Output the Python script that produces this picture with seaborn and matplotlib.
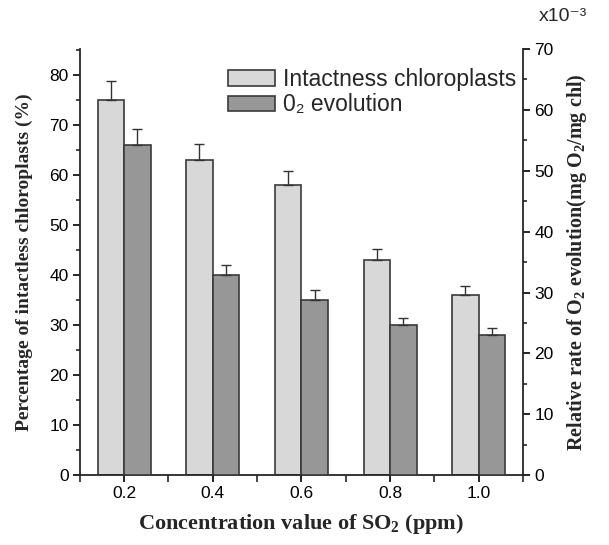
import numpy as np
import matplotlib
matplotlib.use("Agg")
import matplotlib.pyplot as plt
import seaborn as sns
from matplotlib.patches import Patch
from matplotlib.ticker import MultipleLocator

# ---- data ----
conc = [0.2, 0.4, 0.6, 0.8, 1.0]
tick_labels = ["0.2", "0.4", "0.6", "0.8", "1.0"]
intact = [75.0, 63.0, 58.0, 43.0, 36.0]          # % (left axis)
intact_err = [3.8, 3.2, 2.8, 2.2, 1.8]
o2_rate = [54.2, 32.9, 28.8, 24.7, 23.0]         # x1e-3 mg O2/mg chl (right axis)
o2_err = [2.7, 1.6, 1.6, 1.2, 1.2]

sns.set_style("ticks")
plt.rcParams["font.family"] = ["Liberation Sans", "DejaVu Sans"]
plt.rcParams["mathtext.fontset"] = "custom"
plt.rcParams["mathtext.rm"] = "Liberation Serif:bold"
plt.rcParams["mathtext.bf"] = "Liberation Serif:bold"
plt.rcParams["mathtext.it"] = "Liberation Serif:bold"

light = "#d8d8d8"
dark = "#979797"
edge = "#3a3a3a"

fig = plt.figure(figsize=(6.09, 5.45), dpi=100)
ax = fig.add_axes([0.131, 0.128, 0.728, 0.782])
ax2 = ax.twinx()

off = 0.03
x_light = [c - off for c in conc]
x_dark = [c + off for c in conc]

sns.barplot(x=x_light, y=intact, native_scale=True, width=0.3, color=light,
            edgecolor=edge, linewidth=1.2, errorbar=None, ax=ax, saturation=1)
sns.barplot(x=x_dark, y=o2_rate, native_scale=True, width=0.3, color=dark,
            edgecolor=edge, linewidth=1.2, errorbar=None, ax=ax2, saturation=1)

ax.errorbar(x_light, intact, yerr=[np.zeros(len(intact)), intact_err], fmt="none",
            ecolor="#333333", elinewidth=1.0, capsize=3.5, capthick=1.0, zorder=5)
ax2.errorbar(x_dark, o2_rate, yerr=[np.zeros(len(o2_rate)), o2_err], fmt="none",
             ecolor="#333333", elinewidth=1.0, capsize=3.5, capthick=1.0, zorder=5)

ax.set_xlim(0.1, 1.1)
ax.set_ylim(0, 85.1)
ax2.set_ylim(0, 70)

ax.set_xticks(conc)
ax.set_xticklabels(tick_labels)
ax.set_xticks([0.1, 0.3, 0.5, 0.7, 0.9, 1.1], minor=True)
ax.yaxis.set_major_locator(MultipleLocator(10))
ax.yaxis.set_minor_locator(MultipleLocator(5))
ax2.yaxis.set_major_locator(MultipleLocator(10))
ax2.yaxis.set_minor_locator(MultipleLocator(5))

for a in (ax, ax2):
    a.tick_params(axis="both", which="major", direction="out", length=5, width=1.2,
                  labelsize=12.5, colors="black", pad=3)
    a.tick_params(axis="both", which="minor", direction="out", length=3, width=1.2)
ax.tick_params(axis="x", which="minor", length=5)
for s in ("left", "bottom", "right"):
    ax.spines[s].set_linewidth(1.3)
    ax2.spines[s].set_linewidth(1.3)
ax.spines["top"].set_visible(False)
ax2.spines["top"].set_visible(False)
ax.spines["right"].set_visible(False)
ax2.spines["left"].set_visible(False)
ax2.spines["bottom"].set_visible(False)

ax.set_xlabel("Concentration value of SO$_2$ (ppm)", fontsize=16,
              family="Liberation Serif", fontweight="bold", labelpad=8)
ax.set_ylabel("Percentage of intactless chloroplasts (%)", fontsize=14,
              family="Liberation Serif", fontweight="bold", labelpad=12)
ax2.set_ylabel("Relative rate of O$_2$ evolution(mg O$_2$/mg chl)", fontsize=14.5,
               family="Liberation Serif", fontweight="bold", labelpad=8)

fig.text(0.925, 0.955, "x10⁻³", fontsize=14, ha="center", va="bottom",
         family=["Liberation Sans", "DejaVu Sans"])

handles = [Patch(facecolor=light, edgecolor=edge, linewidth=1.2),
           Patch(facecolor=dark, edgecolor=edge, linewidth=1.2)]
ax.legend(handles, ["Intactness chloroplasts", "0₂ evolution"],
          loc="upper left", bbox_to_anchor=(0.359, 0.892), bbox_transform=fig.transFigure,
          frameon=False, handlelength=2.05, handleheight=0.65,
          handletextpad=0.35, labelspacing=0.1, borderaxespad=0,
          prop={"family": ["Liberation Sans", "DejaVu Sans"], "size": 16.5})

fig.savefig("out.png", dpi=100)
